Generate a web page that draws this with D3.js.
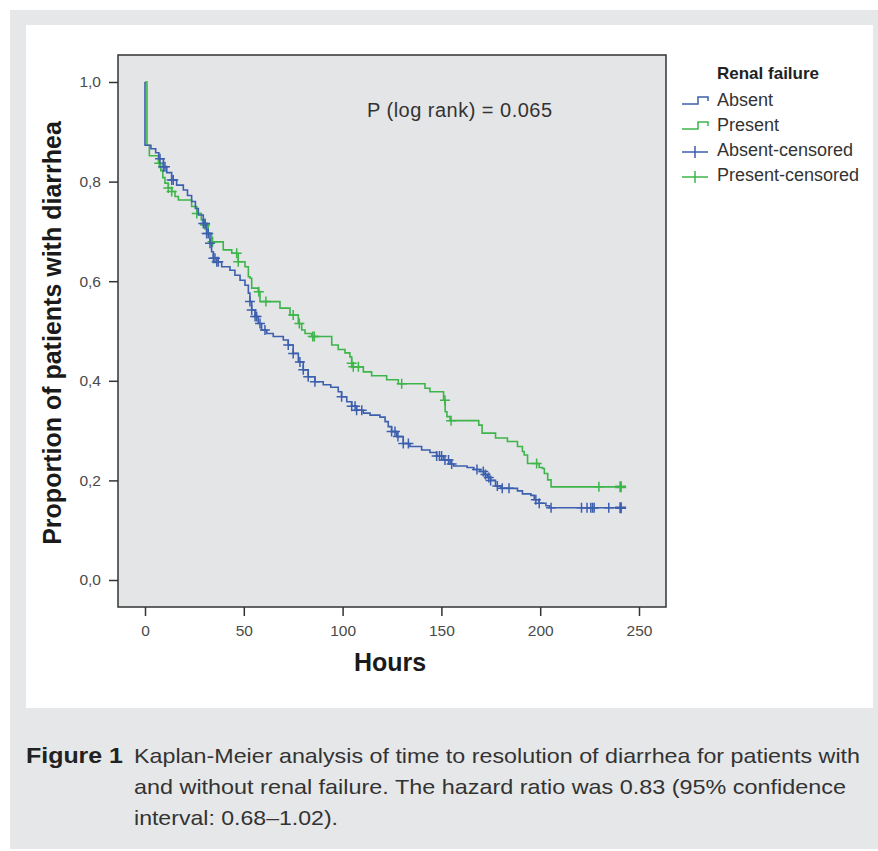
<!DOCTYPE html>
<meta charset="utf-8">
<html>
<head>
<script src="https://d3js.org/d3.v7.min.js"></script>
<style>
  body { margin: 0; background: #fff; }
  svg text { font-family: "Liberation Sans", Arial, Helvetica, sans-serif; }
</style>
</head>
<body>
<div id="km_viz"></div>
<script>
// step curves: time of each drop and survival after the drop
var blueTimes = [0, 3, 5.4, 7, 9.3, 11, 13.5, 16, 19.4, 21.5, 23.6, 25.5, 27, 29.5, 31.2, 32.9, 33.7, 34.6, 36.3, 38.8,
  43, 45.5, 48.1, 50.6, 52.3, 53.1, 54, 55.7, 57.3, 59, 61.6, 64.9, 70, 72.5, 75, 77.6, 80.1, 82.6, 86, 90.2,
  94, 97.8, 99.5, 102.1, 104.6, 107.1, 110.5, 113.9, 118.9, 121.5, 123.1, 124.8, 127.4, 130.7, 134.1, 140, 144.2, 147.6, 151, 154.4,
  156.2, 163, 166.4, 169.5, 171.5, 173.2, 174.9, 177.4, 180, 188.5, 191, 195.3, 197, 199.5, 202.9, 204.7];
var blueSurv = [0.873, 0.866, 0.858, 0.846, 0.830, 0.818, 0.803, 0.793, 0.783, 0.772, 0.760, 0.746, 0.733, 0.716, 0.696, 0.676, 0.659, 0.646, 0.639, 0.629,
  0.622, 0.612, 0.602, 0.592, 0.576, 0.559, 0.542, 0.529, 0.515, 0.502, 0.495, 0.489, 0.482, 0.472, 0.455, 0.438, 0.422, 0.408, 0.398, 0.392,
  0.387, 0.378, 0.368, 0.358, 0.349, 0.341, 0.335, 0.331, 0.327, 0.318, 0.308, 0.298, 0.288, 0.274, 0.268, 0.261, 0.256, 0.249, 0.241, 0.233,
  0.229, 0.226, 0.222, 0.218, 0.212, 0.206, 0.200, 0.189, 0.184, 0.179, 0.173, 0.170, 0.161, 0.154, 0.149, 0.145];
var blueCensor = [7.6, 9.3, 10.1, 13.5, 14.3, 29.5, 30.4, 31.2, 32, 32.9, 34.6, 35.4, 36.3, 37.1, 53.1, 54, 55.7, 56.5, 58.2, 60.7,
  72.5, 75, 78.4, 80.1, 82.6, 86, 99.5, 104.6, 106.3, 107.1, 109.7, 124.8, 126.5, 128, 130.7, 133.3, 147.6, 149, 150.1, 151.8,
  153.6, 155.2, 168, 171.2, 172.3, 174, 174.9, 178.3, 180.8, 184.2, 197.8, 199.5, 205.5, 220.9, 223.7, 225.6, 226.5, 227.3, 234.7, 240.7];

var greenTimes = [1, 2.2, 6.8, 8, 9, 10.1, 11.8, 13.5, 15.2, 16.9, 23.6, 26.2, 28.5, 30.4, 32, 33.7, 39.6, 43.9, 47.2, 50.6,
  52.3, 53.2, 54, 57.3, 58.2, 68.3, 73.4, 77.6, 79.3, 81, 84.4, 94.5, 97.8, 101.2, 103.7, 104.6, 105.4, 110.5, 114.7, 122.3,
  128.2, 141.7, 144.2, 151.1, 151.9, 152.8, 154.4, 168.9, 170.6, 177.4, 183.4, 188.5, 191, 191.9, 193.6, 199.5, 201.2, 202.1, 203.8, 205.5];
var greenSurv = [0.873, 0.852, 0.837, 0.822, 0.808, 0.797, 0.787, 0.780, 0.770, 0.763, 0.750, 0.736, 0.723, 0.713, 0.696, 0.679, 0.663, 0.656, 0.639, 0.629,
  0.609, 0.606, 0.586, 0.579, 0.559, 0.546, 0.532, 0.515, 0.502, 0.495, 0.489, 0.472, 0.463, 0.456, 0.448, 0.435, 0.428, 0.418, 0.410, 0.402,
  0.394, 0.385, 0.378, 0.361, 0.338, 0.328, 0.320, 0.311, 0.295, 0.285, 0.278, 0.268, 0.258, 0.251, 0.234, 0.226, 0.224, 0.214, 0.201, 0.187];
var greenCensor = [7.2, 11.8, 13.5, 26.2, 30.4, 34.2, 46.4, 47.2, 57.6, 61.2, 75, 78.1, 84.9, 85.7, 104.6, 105.4, 108, 129.9, 151.8, 154.9,
  198.2, 229.7, 240.7];

var xTicks = [0, 50, 100, 150, 200, 250];
var yTicks = [0, 0.2, 0.4, 0.6, 0.8, 1.0];
var legendLabels = ["Absent", "Present", "Absent-censored", "Present-censored"];
var captionLines = [
  "Kaplan-Meier analysis of time to resolution of diarrhea for patients with",
  "and without renal failure. The hazard ratio was 0.83 (95% confidence",
  "interval: 0.68\u20131.02)."
];

var blue = "#3c5fae", green = "#3db54a";
var width = 878, height = 851;

var svg = d3.select("#km_viz").append("svg")
  .attr("width", width).attr("height", height);

// page frame
svg.append("rect").attr("x", 10).attr("y", 10).attr("width", 868).attr("height", 839).attr("fill", "#e6e7e9");
svg.append("rect").attr("x", 26).attr("y", 25).attr("width", 847).attr("height", 683).attr("fill", "#fff");

var plot = {left: 118, top: 55, right: 666, bottom: 607};
svg.append("rect")
  .attr("x", plot.left).attr("y", plot.top)
  .attr("width", plot.right - plot.left).attr("height", plot.bottom - plot.top)
  .attr("fill", "#e4e5e7").attr("stroke", "#333").attr("stroke-width", 1.5);

var x = d3.scaleLinear().domain([0, 250]).range([145, 639]);
var y = d3.scaleLinear().domain([0, 1]).range([580, 82]);

// axes
var xAxis = svg.append("g").attr("transform", "translate(0," + plot.bottom + ")")
  .call(d3.axisBottom(x).tickValues(xTicks).tickSize(9).tickPadding(9));
var yAxis = svg.append("g").attr("transform", "translate(" + plot.left + ",0)")
  .call(d3.axisLeft(y).tickValues(yTicks).tickSize(9).tickPadding(8)
    .tickFormat(function(d) { return d3.format(".1f")(d).replace(".", ","); }));
[xAxis, yAxis].forEach(function(g) {
  g.select(".domain").remove();
  g.selectAll(".tick line").attr("stroke", "#333").attr("stroke-width", 1.5);
  g.selectAll(".tick text").attr("font-size", 15.5).attr("fill", "#4a4a4a")
    .attr("font-family", "'Liberation Sans', Arial, sans-serif");
});

svg.append("text").attr("x", 390).attr("y", 671).attr("text-anchor", "middle")
  .attr("font-size", 25).attr("font-weight", "bold").attr("fill", "#1a1a1a").text("Hours");
svg.append("text").attr("transform", "translate(61,333) rotate(-90)").attr("text-anchor", "middle")
  .attr("font-size", 25).attr("font-weight", "bold").attr("fill", "#1a1a1a").text("Proportion of patients with diarrhea");

svg.append("text").attr("x", 367).attr("y", 117).attr("font-size", 20).attr("fill", "#333")
  .attr("textLength", 185).attr("lengthAdjust", "spacing").text("P (log rank) = 0.065");

// curves
var line = d3.line().x(function(d) { return x(d[0]); }).y(function(d) { return y(d[1]); }).curve(d3.curveStepAfter);

function survAt(times, surv, t) {
  var i = d3.bisectRight(times, t);
  return i === 0 ? 1 : surv[i - 1];
}

function drawGroup(times, surv, censor, color) {
  var end = d3.max(censor);
  var pts = [[0, 1]].concat(times.map(function(t, i) { return [t, surv[i]]; }), [[end, surv[surv.length - 1]]]);
  svg.append("path").datum(pts).attr("d", line)
    .attr("fill", "none").attr("stroke", color).attr("stroke-width", 1.6).attr("stroke-linejoin", "miter");
  svg.append("g").selectAll("path").data(censor).join("path")
    .attr("transform", function(t) { return "translate(" + x(t) + "," + y(survAt(times, surv, t)) + ")"; })
    .attr("d", function(t) { var s = t === end ? 5.5 : 5; return "M" + (-s) + ",0H" + s + "M0," + (-s) + "V" + s; })
    .attr("fill", "none").attr("stroke", color)
    .attr("stroke-width", function(t) { return t === end ? 2.6 : 1.5; });
}

drawGroup(greenTimes, greenSurv, greenCensor, green);
drawGroup(blueTimes, blueSurv, blueCensor, blue);

// legend
var leg = svg.append("g");
leg.append("text").attr("x", 717).attr("y", 79).attr("font-size", 17).attr("font-weight", "bold")
  .attr("fill", "#222").text("Renal failure");
var legColors = [blue, green, blue, green];
legendLabels.forEach(function(lab, i) {
  var cy = 100 + i * 25;
  leg.append("text").attr("x", 717).attr("y", cy + 6).attr("font-size", 18).attr("fill", "#333").text(lab);
  var path = i < 2
    ? "M682," + (cy + 4) + "H698V" + (cy - 3) + "H708V" + (cy + 1)
    : "M682," + (cy + 2) + "H708M695," + (cy - 4) + "V" + (cy + 8);
  leg.append("path").attr("d", path).attr("fill", "none").attr("stroke", legColors[i]).attr("stroke-width", 1.5);
});

// caption
var cap = svg.append("g");
cap.append("text").attr("x", 26).attr("y", 763).attr("font-size", 22).attr("font-weight", "bold")
  .attr("fill", "#222").attr("textLength", 97).attr("lengthAdjust", "spacingAndGlyphs").text("Figure 1");
var capWidths = [726, 712, 204];
captionLines.forEach(function(l, i) {
  cap.append("text").attr("x", 134).attr("y", 763 + i * 31).attr("font-size", 21).attr("fill", "#333")
    .attr("textLength", capWidths[i]).attr("lengthAdjust", "spacingAndGlyphs").text(l);
});
</script>
</body>
</html>
